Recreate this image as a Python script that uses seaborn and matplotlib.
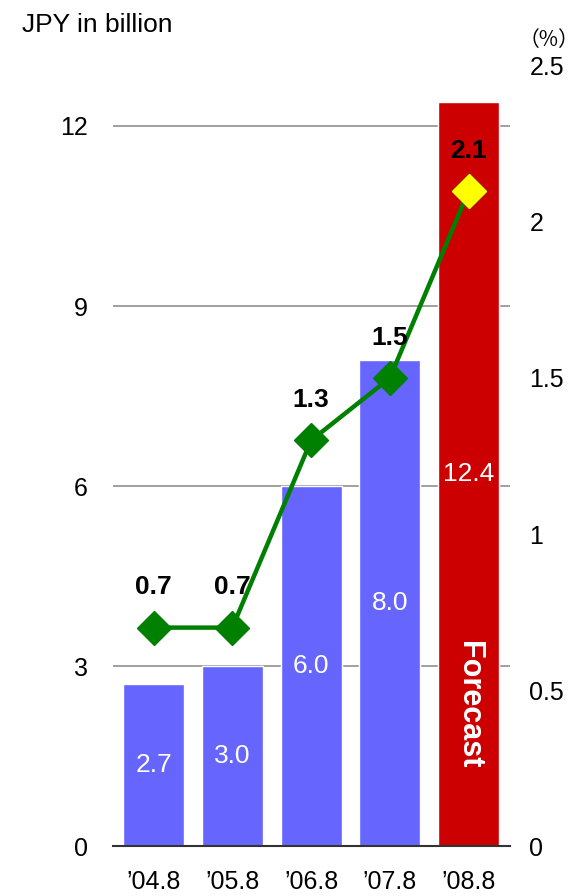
import matplotlib
matplotlib.use("Agg")
import matplotlib.pyplot as plt
import seaborn as sns
import numpy as np
import pandas as pd

# ---- data ----
periods = ["\u201904.8", "\u201905.8", "\u201906.8", "\u201907.8", "\u201908.8"]
sales = [2.7, 3.0, 6.0, 8.1, 12.4]          # JPY in billion (bars)
sales_labels = ["2.7", "3.0", "6.0", "8.0", "12.4"]
rate = [0.7, 0.7, 1.3, 1.5, 2.1]            # % (line)
rate_labels = ["0.7", "0.7", "1.3", "1.5", "2.1"]
left_ticks = [0, 3, 6, 9, 12]
right_ticks = [0, 0.5, 1, 1.5, 2, 2.5]
right_tick_labels = ["0", "0.5", "1", "1.5", "2", "2.5"]
bar_colors = ["#6666FF", "#6666FF", "#6666FF", "#6666FF", "#CC0000"]

sns.set_theme(style="white")
plt.rcParams["font.family"] = ["Liberation Sans", "Noto Sans CJK JP", "DejaVu Sans"]
plt.rcParams["text.color"] = "black"

fig = plt.figure(figsize=(5.81, 8.96), dpi=100)
ax = fig.add_axes([113 / 581, 1 - 846 / 896, (510 - 113) / 581, (846 - 66) / 896])

df = pd.DataFrame({"period": periods, "sales": sales})
sns.barplot(data=df, x="period", y="sales", hue="period", palette=bar_colors,
            legend=False, width=0.775, saturation=1, ax=ax, zorder=2)

ax.set_ylim(0, 13)
ax.set_xlim(-0.515, len(periods) - 1 + 0.525)
ax.set_yticks(left_ticks)
ax.set_yticklabels([str(t) for t in left_ticks])
ax.yaxis.grid(True, color="#999999", linewidth=1.3)
ax.set_axisbelow(True)
ax.set_xlabel("")
ax.set_ylabel("")
for s in ["left", "right", "top"]:
    ax.spines[s].set_visible(False)
ax.spines["bottom"].set_color("#333333")
ax.spines["bottom"].set_linewidth(1.5)
ax.tick_params(axis="y", length=0, pad=18, labelsize=18, labelcolor="black")
ax.tick_params(axis="x", length=0, pad=17, labelsize=18, labelcolor="black")

# bar labels
for i, (v, lab) in enumerate(zip(sales, sales_labels)):
    ax.text(i, v / 2, lab, ha="center", va="center", color="white", fontsize=19, zorder=5)
# forecast text on last bar
last = len(sales) - 1
ax.text(last, sales[last] * 0.19, "Forecast", ha="center", va="center", rotation=-90,
        color="white", fontsize=22, fontweight="bold", zorder=5)

# line on right axis
ax2 = ax.twinx()
ax2.set_ylim(0, 2.5)
x = np.arange(len(rate))
ax2.plot(x, rate, color="#008000", linewidth=3.2, marker="D", markersize=17,
         markerfacecolor="#008000", markeredgecolor="#008000", zorder=3)
ax2.plot(x[-1:], rate[-1:], linestyle="none", marker="D", markersize=17,
         markerfacecolor="#FFFF00", markeredgecolor="#FFFF00", zorder=4)
for xi, v, lab in zip(x, rate, rate_labels):
    ax2.annotate(lab, (xi, v), xytext=(0, 29), textcoords="offset points",
                 ha="center", va="center", fontsize=19, fontweight="bold", color="black")
ax2.set_yticks(right_ticks)
ax2.set_yticklabels(right_tick_labels)
ax2.tick_params(axis="y", length=0, pad=14, labelsize=18, labelcolor="black")
for s in ["left", "right", "top", "bottom"]:
    ax2.spines[s].set_visible(False)
ax2.grid(False)

fig.text(22 / 581, 1 - 25 / 896, "JPY in billion", ha="left", va="center", fontsize=19)
fig.text(549 / 581, 1 - 40 / 896, "\uff08%\uff09", ha="center", va="center", fontsize=15,
         family=["Noto Sans CJK JP", "DejaVu Sans"])

fig.savefig("out.png", dpi=100)
